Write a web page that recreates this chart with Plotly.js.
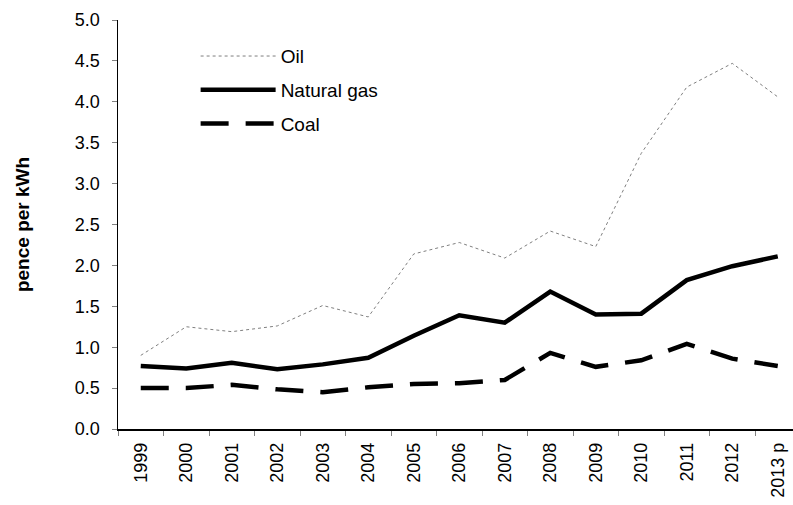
<!DOCTYPE html>
<html>
<head>
<meta charset="utf-8">
<script src="https://cdn.plot.ly/plotly-3.0.1.min.js"></script>
<style>html,body{margin:0;padding:0;overflow:hidden;background:#fff;}</style>
</head>
<body>
<div id="chart" style="width:793px;height:505px;"></div>
<script>
var years = ['1999','2000','2001','2002','2003','2004','2005','2006','2007','2008','2009','2010','2011','2012','2013 p'];
var oil = [0.90, 1.25, 1.19, 1.26, 1.51, 1.37, 2.14, 2.28, 2.09, 2.42, 2.23, 3.37, 4.18, 4.47, 4.06];
var naturalGas = [0.77, 0.74, 0.81, 0.73, 0.79, 0.87, 1.14, 1.39, 1.30, 1.68, 1.40, 1.41, 1.82, 1.99, 2.11];
var coal = [0.50, 0.50, 0.54, 0.485, 0.45, 0.51, 0.55, 0.56, 0.60, 0.93, 0.76, 0.84, 1.04, 0.86, 0.77];

var traces = [
  {x: years, y: oil, name: 'Oil', type: 'scatter', mode: 'lines', legendgroup: 'a',
   line: {color: '#7f7f7f', width: 1, dash: 'dot'}},
  {x: years, y: naturalGas, name: 'Natural gas', type: 'scatter', mode: 'lines', legendgroup: 'b',
   line: {color: '#000000', width: 4.5}},
  {x: years, y: coal, name: 'Coal', type: 'scatter', mode: 'lines', legendgroup: 'c',
   line: {color: '#000000', width: 4.5, dash: '28px,17px'}}
];

var layout = {
  width: 793, height: 505,
  margin: {l: 118, r: 0, t: 20, b: 76},
  paper_bgcolor: '#fff', plot_bgcolor: '#fff',
  font: {family: 'Liberation Sans, Arial, sans-serif', size: 18, color: '#000'},
  showlegend: true,
  legend: {x: 0.115, y: 0.958, xanchor: 'left', yanchor: 'top', bgcolor: 'rgba(0,0,0,0)',
    traceorder: 'grouped', tracegroupgap: 6, itemwidth: 75,
    font: {family: 'Liberation Sans, Arial, sans-serif', size: 19, color: '#000'}},
  xaxis: {type: 'category', range: [-0.5, 14.335], showgrid: false, zeroline: false,
    showline: true, linecolor: '#000', linewidth: 1.5,
    ticks: 'outside', tickson: 'boundaries', ticklen: 5, tickcolor: '#808080', tickwidth: 1,
    tickangle: -90, tickfont: {size: 18}, ticklabelstandoff: 5},
  yaxis: {range: [0, 5], dtick: 0.5, tick0: 0, tickformat: '.1f', showgrid: false, zeroline: false,
    showline: true, linecolor: '#000', linewidth: 1.5,
    ticks: 'outside', ticklen: 5, tickcolor: '#808080', tickwidth: 1, tickfont: {size: 18},
    ticklabelstandoff: 8,
    title: {text: '<b>pence per kWh</b>', font: {size: 19}, standoff: 40}}
};

Plotly.newPlot('chart', traces, layout, {displayModeBar: false, staticPlot: true});
</script>
</body>
</html>
